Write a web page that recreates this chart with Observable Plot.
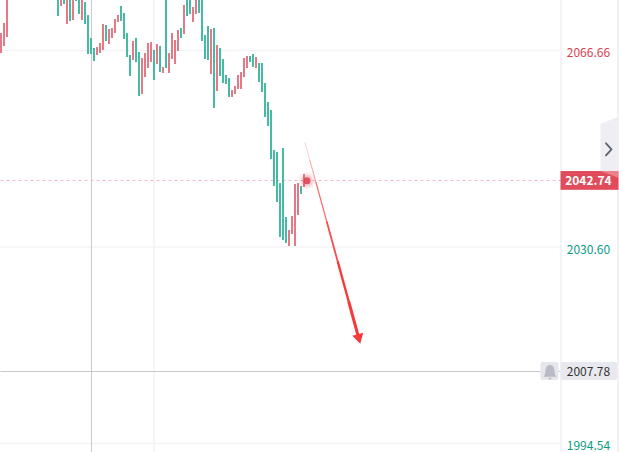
<!DOCTYPE html>
<html>
<head>
<meta charset="utf-8">
<script src="https://cdn.jsdelivr.net/npm/d3@7"></script>
<script src="https://cdn.jsdelivr.net/npm/@observablehq/plot@0.6"></script>
<style>html,body{margin:0;padding:0;background:#fff;overflow:hidden}svg{display:block}</style>
</head>
<body>
<div id="chart"></div>
<script>
const slots = [0,1,2,19,20,21,22,23,24,25,26,27,28,29,30,31,32,33,34,35,36,37,38,39,40,41,42,43,44,45,46,47,48,49,50,51,52,53,54,55,56,57,58,59,60,61,62,63,64,65,66,67,68,69,70,71,72,73,74,75,76,77,78,79,80,81,82,83,84,85,86,87,88,89,90,91,92,93,94,95,96,97,98,99,100,101];
const tops = [2069.78,2071.61,2076.75,2076.75,2076.75,2076.75,2076.75,2076.75,2076.75,2076.75,2076.75,2076.75,2075.47,2073.08,2068.86,2067.03,2067.21,2067.94,2071.43,2071.24,2070.51,2070.70,2072.35,2073.08,2074.73,2073.45,2069.78,2065.74,2068.31,2068.86,2066.29,2065.19,2066.11,2067.94,2068.13,2066.66,2067.76,2067.39,2063.54,2076.75,2066.11,2069.78,2068.50,2070.33,2070.70,2074.92,2076.75,2076.75,2074.55,2076.75,2076.75,2076.75,2069.41,2071.07,2070.51,2070.70,2067.58,2067.03,2065.01,2062.07,2061.52,2059.32,2060.05,2062.07,2062.62,2065.19,2065.56,2065.56,2065.93,2065.37,2064.27,2064.27,2060.60,2057.12,2055.65,2048.31,2047.94,2042.25,2048.67,2036.01,2033.63,2036.20,2042.07,2042.25,2041.70,2043.90];
const bottoms = [2066.11,2067.39,2069.05,2072.90,2074.73,2075.10,2071.43,2071.98,2072.17,2075.65,2073.27,2072.17,2071.43,2065.93,2065.93,2064.64,2065.74,2066.11,2066.66,2068.31,2067.76,2068.86,2069.78,2071.80,2071.98,2068.68,2065.37,2061.89,2064.82,2064.43,2058.22,2058.59,2061.70,2063.36,2064.46,2061.15,2064.09,2062.62,2062.44,2063.36,2062.44,2065.01,2064.09,2066.48,2068.86,2069.60,2072.90,2073.27,2071.80,2073.27,2073.45,2068.31,2065.01,2064.82,2062.26,2056.02,2059.13,2061.89,2060.60,2060.42,2058.04,2058.04,2058.59,2059.50,2059.50,2061.70,2063.36,2064.46,2063.54,2063.36,2060.79,2058.95,2054.36,2052.71,2046.66,2041.70,2038.77,2032.34,2031.79,2031.24,2030.69,2032.89,2030.69,2036.38,2040.24,2041.52];
const directions = "RRRTRTRTRTTRTTTTRRRTRRRRTTTTRTTRRRRTRTRTRRRRTRTTRRTTTTRTRTTTTRRRRRRTTRTTTTTTTTTTRRRRTR";

const gridPrices = [2066.66, 2030.60, 1994.54];
const axisLabels = ["2066.66", "2030.60", "1994.54"];
const axisColors = ["#d9414f", "#0b9a84", "#0b9a84"];
const lastPrice = 2042.74;
const crosshairPrice = 2007.78;
const crosshairSlot = 30.17;
const gridSlot = 51;
const axisSlot = 186.67;

const arrowSlots = [101.33, 103, 105, 108.67, 112.33, 116, 119];
const arrowPrices = [2049.78, 2046.4, 2042.44, 2035.10, 2027.75, 2020.41, 2014.36];
const arrowWidths = [0.7, 0.9, 1.2, 1.8, 2.4, 3];
const arrowOpacity = [0.35, 0.55, 0.75, 0.9, 1, 1];

const bars = slots.map((s, i) => ({s, top: tops[i], bottom: bottoms[i], up: directions[i] === "R"}));
const segs = arrowWidths.map((w, i) => ({x1: arrowSlots[i], x2: arrowSlots[i+1], y1: arrowPrices[i], y2: arrowPrices[i+1], w, o: arrowOpacity[i]}));

const bell = {draw(c, size) {
  const k = Math.sqrt(size) / 14;
  c.moveTo(-6*k, 5*k);
  c.bezierCurveTo(-4*k, 3*k, -4.5*k, 0, -4*k, -2*k);
  c.bezierCurveTo(-3.6*k, -5*k, -1.5*k, -6*k, 0, -6*k);
  c.bezierCurveTo(1.5*k, -6*k, 3.6*k, -5*k, 4*k, -2*k);
  c.bezierCurveTo(4.5*k, 0, 4*k, 3*k, 6*k, 5*k);
  c.closePath();
  c.moveTo(-1.8*k, 6*k); c.lineTo(1.8*k, 6*k); c.lineTo(0, 8*k); c.closePath();
}};

const font = '"Noto Sans CJK SC","Noto Sans",sans-serif';
const labelNudges = [3, 3.5, 2.5];

const chart = Plot.plot({
  width: 619, height: 452,
  marginTop: 0, marginRight: 0, marginBottom: 0, marginLeft: 0,
  style: {background: "#fff", fontFamily: font},
  x: {domain: [0, 206], range: [0.5, 618.5], axis: null},
  y: {domain: [2075.836, 1992.885], range: [0, 452], axis: null},
  marks: [
    Plot.ruleY(gridPrices, {x1: 0, x2: axisSlot, stroke: "#f3f3f5", strokeWidth: 1.4}),
    Plot.ruleX([gridSlot], {stroke: "#f3f3f5", strokeWidth: 1.6}),
    Plot.ruleX([axisSlot], {stroke: "#e8e8ee", strokeWidth: 1}),
    Plot.ruleX([206], {dx: -1, stroke: "#f1f1f4", strokeWidth: 2}),
    Plot.ruleX([crosshairSlot], {stroke: "#c9c9d2", strokeWidth: 1}),
    Plot.ruleY([crosshairPrice], {x1: 0, x2: axisSlot, dy: 0.17, stroke: "#c9c9d2", strokeWidth: 1}),
    Plot.ruleY([lastPrice], {x1: 0, x2: axisSlot, dy: -0.34, stroke: "#f5b8bf", strokeWidth: 1, strokeDasharray: "3,3"}),
    Plot.ruleX(bars, {x: "s", y1: "top", y2: "bottom", strokeWidth: 2, clip: true,
      stroke: d => d.up ? "#e57a87" : "#45bba5"}),
    Plot.dot([lastPrice], {x: [102], y: d => d, r: 8.5, fill: "#e0505f", fillOpacity: 0.1}),
    Plot.dot([lastPrice], {x: [102], y: d => d, r: 6, fill: "#e0505f", fillOpacity: 0.18}),
    Plot.dot([lastPrice], {x: [102], y: d => d, r: 3.5, fill: "#d94050", fillOpacity: 0.85}),
    Plot.link(segs, {x1: "x1", x2: "x2", y1: "y1", y2: "y2", stroke: "#f53a3a", strokeWidth: "w", strokeOpacity: "o", strokeLinecap: "round"}),
    Plot.dot([2014.0], {x: [119.2], y: d => d, symbol: "triangle", r: 4.2, fill: "#f53a3a", rotate: 165}),
    ...axisLabels.map((label, i) => Plot.text([label], {x: [195.8], y: [gridPrices[i]], text: d => d, dy: labelNudges[i], fill: axisColors[i], fontSize: 12, textAnchor: "middle"})),
    Plot.rect([0], {x1: [180], x2: [186], y1: [2009.40], y2: [2006.10], fill: "#e6e7ed", rx: 2}),
    Plot.dot([crosshairPrice], {x: [183], y: d => d, symbol: bell, r: 8.5, fill: "#b9bbc4"}),
    Plot.rect([0], {x1: [186.67], x2: [205.5], y1: [2009.40], y2: [2006.10], fill: "#e8e9ef", rx: 2}),
    Plot.text([crosshairPrice], {x: [195.8], y: d => d, text: d => d.toFixed(2), dy: 0.7, fill: "#333", fontSize: 12, textAnchor: "middle"}),
    Plot.areaY([0, 1], {x: [200, 206], y1: [2053.08, 2054.40], y2: [2044.45, 2044.45], fill: "#eeeef3"}),
    Plot.line([0, 1, 2], {x: [201.67, 203.5, 201.67], y: [2049.63, 2048.5, 2047.4], stroke: "#5a6274", strokeWidth: 1.8}),
    Plot.rect([0], {x1: [186.67], x2: [206], y1: [2044.45], y2: [2041.0], fill: "#e04c5c"}),
    Plot.areaY([0, 1], {x: [200, 206], y1: [2044.45, 2044.45], y2: [2044.45, 2043.2], fill: "#fff", fillOpacity: 0.3}),
    Plot.text([lastPrice], {x: [195.8], y: d => d, text: d => d.toFixed(2), fill: "#fff", fontSize: 12, fontWeight: 700, textAnchor: "middle"})
  ]
});
document.getElementById("chart").appendChild(chart);
</script>
</body>
</html>
